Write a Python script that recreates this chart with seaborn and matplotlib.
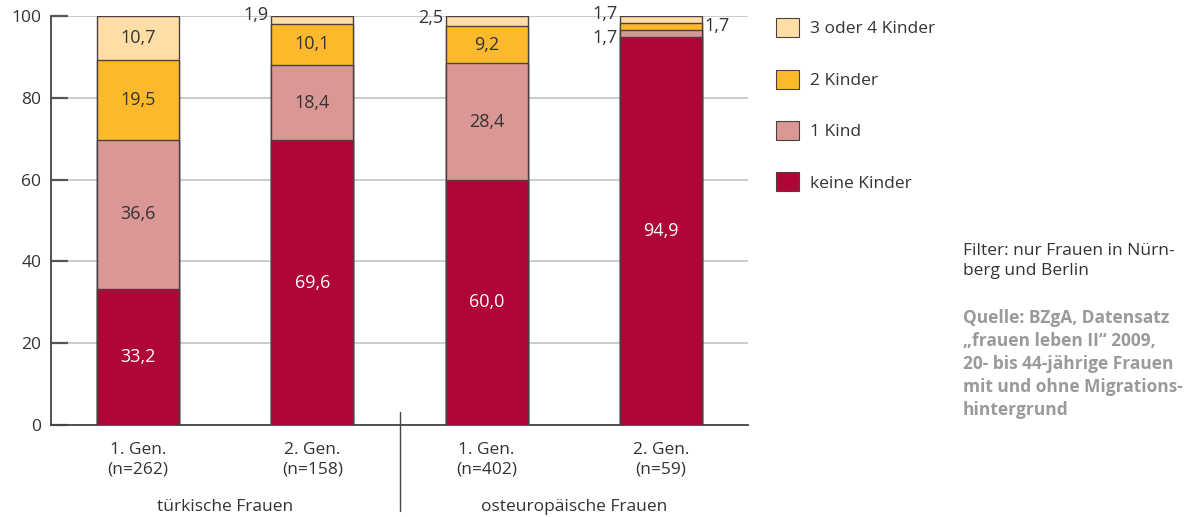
import matplotlib
matplotlib.use("Agg")
import matplotlib.pyplot as plt
from matplotlib.patches import Patch
from matplotlib.transforms import blended_transform_factory
import numpy as np
import pandas as pd
import seaborn as sns

# --- data -------------------------------------------------------------
groups = ["1. Gen.\n(n=262)", "2. Gen.\n(n=158)", "1. Gen.\n(n=402)", "2. Gen.\n(n=59)"]
origin = ["türkische Frauen", "osteuropäische Frauen"]
keine_kinder = [33.2, 69.6, 60.0, 94.9]
ein_kind = [36.6, 18.4, 28.4, 1.7]
zwei_kinder = [19.5, 10.1, 9.2, 1.7]
drei_vier_kinder = [10.7, 1.9, 2.5, 1.7]
layer_names = ["keine Kinder", "1 Kind", "2 Kinder", "3 oder 4 Kinder"]
y_ticks = [0, 20, 40, 60, 80, 100]

colors = {
    "keine Kinder": "#B00637",
    "1 Kind": "#DB9795",
    "2 Kinder": "#FDB92C",
    "3 oder 4 Kinder": "#FEDDA6",
}
TXT = "#333333"
EDGE = "#4a4040"
FS = 12.5

sns.set_theme(style="white")
plt.rcParams["font.family"] = ["Open Sans", "DejaVu Sans"]

layers = [keine_kinder, ein_kind, zwei_kinder, drei_vier_kinder]
df = pd.DataFrame({"gruppe": groups})
for name, vals in zip(layer_names, layers):
    df[name] = vals
cum = np.cumsum(np.array(layers), axis=0)
for i, name in enumerate(layer_names):
    df["cum_" + name] = cum[i]

fig = plt.figure(figsize=(11.9, 5.17), dpi=100)
ax = fig.add_axes([0.0429, 0.178, 0.5857, 0.791])

# stacked bars: draw cumulative totals from the top layer downwards
for name in reversed(layer_names):
    sns.barplot(data=df, x="gruppe", y="cum_" + name, order=groups,
                color=colors[name], saturation=1, width=0.47,
                edgecolor=EDGE, linewidth=1.0, ax=ax, zorder=3)

ax.set_xlim(-0.5, 3.5)
ax.set_ylim(0, 100)
ax.set_yticks(y_ticks)
ax.set_yticklabels([str(t) for t in y_ticks], fontsize=FS, color=TXT)
ax.set_xticks(range(len(groups)))
ax.set_xticklabels(groups, fontsize=FS, color=TXT, linespacing=1.3)
ax.set_xlabel("")
ax.set_ylabel("")
ax.yaxis.grid(True, color="#c4c4c4", linewidth=1.2, zorder=0)
ax.set_axisbelow(True)
for s in ["top", "right"]:
    ax.spines[s].set_visible(False)
for s in ["left", "bottom"]:
    ax.spines[s].set_color("#444444")
    ax.spines[s].set_linewidth(1.3)
ax.tick_params(axis="y", direction="in", length=12, width=1.6, color="#555555",
               pad=7, left=True)
ax.tick_params(axis="x", length=0, pad=12)

# value labels
for i in range(len(groups)):
    base = 0.0
    for j, name in enumerate(layer_names):
        v = layers[j][i]
        mid = base + v / 2
        lab = f"{v:.1f}".replace(".", ",")
        col = "white" if j == 0 else TXT
        if v >= 5:
            ax.text(i, mid, lab, ha="center", va="center", fontsize=13, color=col, zorder=5)
        base += v

def side_label(i, y, text, side):
    dx = -0.25 if side == "left" else 0.25
    ax.text(i + dx, y, text, ha="right" if side == "left" else "left", va="center",
            fontsize=13, color=TXT, zorder=5, clip_on=False)

# small segments labelled beside the bar
side_label(1, 100.2, "1,9", "left")
side_label(2, 99.4, "2,5", "left")
side_label(3, 100.4, "1,7", "left")
side_label(3, 97.6, "1,7", "right")
side_label(3, 94.6, "1,7", "left")

# group captions and divider
trans = blended_transform_factory(ax.transData, ax.transAxes)
ax.text(0.5, -0.2, origin[0], transform=trans, ha="center", va="center",
        fontsize=FS, color=TXT)
ax.text(2.5, -0.2, origin[1], transform=trans, ha="center", va="center",
        fontsize=FS, color=TXT)
ax.plot([1.5, 1.5], [0.032, -0.21], transform=trans, color="#444444",
        linewidth=1.0, clip_on=False)

# legend
handles = [Patch(facecolor=colors[n], edgecolor=EDGE, linewidth=0.8, label=n)
           for n in reversed(layer_names)]
fig.legend(handles=handles, loc="upper left", bbox_to_anchor=(0.639, 0.995),
           frameon=False, fontsize=FS, labelcolor=TXT, handlelength=1.3,
           handleheight=1.3, labelspacing=1.85, handletextpad=0.65)

# notes
fig.text(0.809, 0.53, "Filter: nur Frauen in Nürn-\nberg und Berlin", ha="left",
         va="top", fontsize=FS, color=TXT, linespacing=1.35)
fig.text(0.809, 0.402, "Quelle: BZgA, Datensatz\n„frauen leben II“ 2009,\n"
         "20- bis 44-jährige Frauen\nmit und ohne Migrations-\nhintergrund",
         ha="left", va="top", fontsize=FS, color="#9a9a9a", fontweight="bold",
         linespacing=1.35)

fig.savefig("out.png", dpi=100)
